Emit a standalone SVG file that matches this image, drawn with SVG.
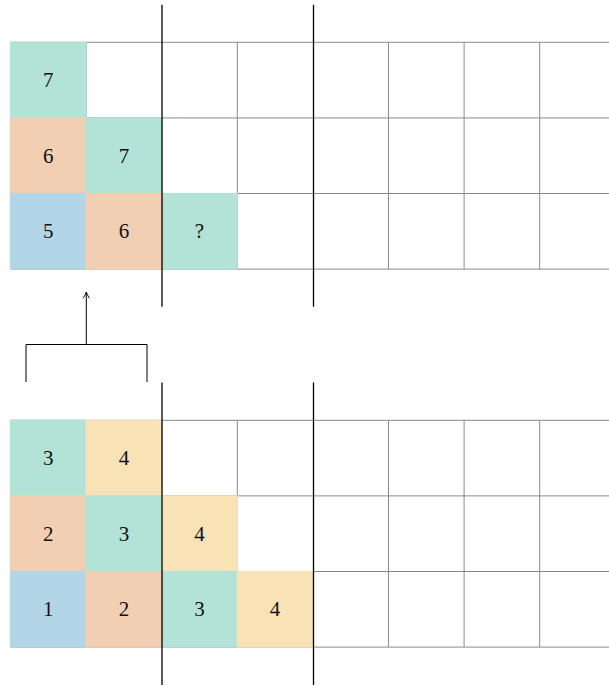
<svg xmlns="http://www.w3.org/2000/svg" width="609" height="686" viewBox="0 0 609 686">
<style>
.grid line{stroke:#8a8a8a;stroke-width:1}
.sep{stroke:#000;stroke-width:1.3}
.g{fill:#b3e2d6}
.o{fill:#f2cfb2}
.b{fill:#b3d5e8}
.y{fill:#f8e2b6}
text{font-family:"Liberation Serif","DejaVu Serif",serif;font-size:21px;fill:#111;text-anchor:middle;dominant-baseline:central}
.conn{stroke:#000;stroke-width:1;fill:none}
</style>
<defs>
<marker id="arr" viewBox="0 0 10 10" refX="9" refY="5" markerWidth="9" markerHeight="9" markerUnits="userSpaceOnUse" orient="auto">
<path d="M2,1.5 Q6,4 9,5 Q6,6 2,8.5" fill="none" stroke="#000" stroke-width="1"/>
</marker>
</defs>
<rect width="609" height="686" fill="#fff"/>

<g id="top-grid" class="grid">
<line x1="10.5" y1="42.3" x2="609" y2="42.3"/>
<line x1="10.5" y1="117.9" x2="609" y2="117.9"/>
<line x1="10.5" y1="193.5" x2="609" y2="193.5"/>
<line x1="10.5" y1="269.1" x2="609" y2="269.1"/>
<line x1="86.1" y1="42.3" x2="86.1" y2="269.1"/>
<line x1="237.3" y1="42.3" x2="237.3" y2="269.1"/>
<line x1="388.5" y1="42.3" x2="388.5" y2="269.1"/>
<line x1="464.1" y1="42.3" x2="464.1" y2="269.1"/>
<line x1="539.7" y1="42.3" x2="539.7" y2="269.1"/>
</g>

<g id="bottom-grid" class="grid">
<line x1="10.5" y1="420.3" x2="609" y2="420.3"/>
<line x1="10.5" y1="495.9" x2="609" y2="495.9"/>
<line x1="10.5" y1="571.5" x2="609" y2="571.5"/>
<line x1="10.5" y1="647.1" x2="609" y2="647.1"/>
<line x1="86.1" y1="420.3" x2="86.1" y2="647.1"/>
<line x1="237.3" y1="420.3" x2="237.3" y2="647.1"/>
<line x1="388.5" y1="420.3" x2="388.5" y2="647.1"/>
<line x1="464.1" y1="420.3" x2="464.1" y2="647.1"/>
<line x1="539.7" y1="420.3" x2="539.7" y2="647.1"/>
</g>

<g id="top-cells">
<g id="t-r0c0"><rect class="g" x="9.9" y="41.7" width="76.8" height="76.8"/><text x="48.3" y="80.1">7</text></g>
<g id="t-r1c0"><rect class="o" x="9.9" y="117.3" width="76.8" height="76.8"/><text x="48.3" y="155.7">6</text></g>
<g id="t-r1c1"><rect class="g" x="85.5" y="117.3" width="76.8" height="76.8"/><text x="123.9" y="155.7">7</text></g>
<g id="t-r2c0"><rect class="b" x="9.9" y="192.9" width="76.8" height="76.8"/><text x="48.3" y="231.3">5</text></g>
<g id="t-r2c1"><rect class="o" x="85.5" y="192.9" width="76.8" height="76.8"/><text x="123.9" y="231.3">6</text></g>
<g id="t-r2c2"><rect class="g" x="161.1" y="192.9" width="76.8" height="76.8"/><text x="199.5" y="231.3">?</text></g>
</g>

<g id="bottom-cells">
<g id="b-r0c0"><rect class="g" x="9.9" y="419.7" width="76.8" height="76.8"/><text x="48.3" y="458.1">3</text></g>
<g id="b-r0c1"><rect class="y" x="85.5" y="419.7" width="76.8" height="76.8"/><text x="123.9" y="458.1">4</text></g>
<g id="b-r1c0"><rect class="o" x="9.9" y="495.3" width="76.8" height="76.8"/><text x="48.3" y="533.7">2</text></g>
<g id="b-r1c1"><rect class="g" x="85.5" y="495.3" width="76.8" height="76.8"/><text x="123.9" y="533.7">3</text></g>
<g id="b-r1c2"><rect class="y" x="161.1" y="495.3" width="76.8" height="76.8"/><text x="199.5" y="533.7">4</text></g>
<g id="b-r2c0"><rect class="b" x="9.9" y="570.9" width="76.8" height="76.8"/><text x="48.3" y="609.3">1</text></g>
<g id="b-r2c1"><rect class="o" x="85.5" y="570.9" width="76.8" height="76.8"/><text x="123.9" y="609.3">2</text></g>
<g id="b-r2c2"><rect class="g" x="161.1" y="570.9" width="76.8" height="76.8"/><text x="199.5" y="609.3">3</text></g>
<g id="b-r2c3"><rect class="y" x="236.7" y="570.9" width="76.8" height="76.8"/><text x="275.1" y="609.3">4</text></g>
</g>

<g id="separators">
<line class="sep" x1="162" y1="4.7" x2="162" y2="306.7"/>
<line class="sep" x1="313.5" y1="4.7" x2="313.5" y2="306.7"/>
<line class="sep" x1="162" y1="382.5" x2="162" y2="685"/>
<line class="sep" x1="313.5" y1="382.5" x2="313.5" y2="685"/>
</g>

<g id="connectors">
<path class="conn" d="M26,382 V344.5 H147 V382"/>
<line class="conn" x1="86.3" y1="344.5" x2="86.3" y2="292" marker-end="url(#arr)"/>
</g>
</svg>
